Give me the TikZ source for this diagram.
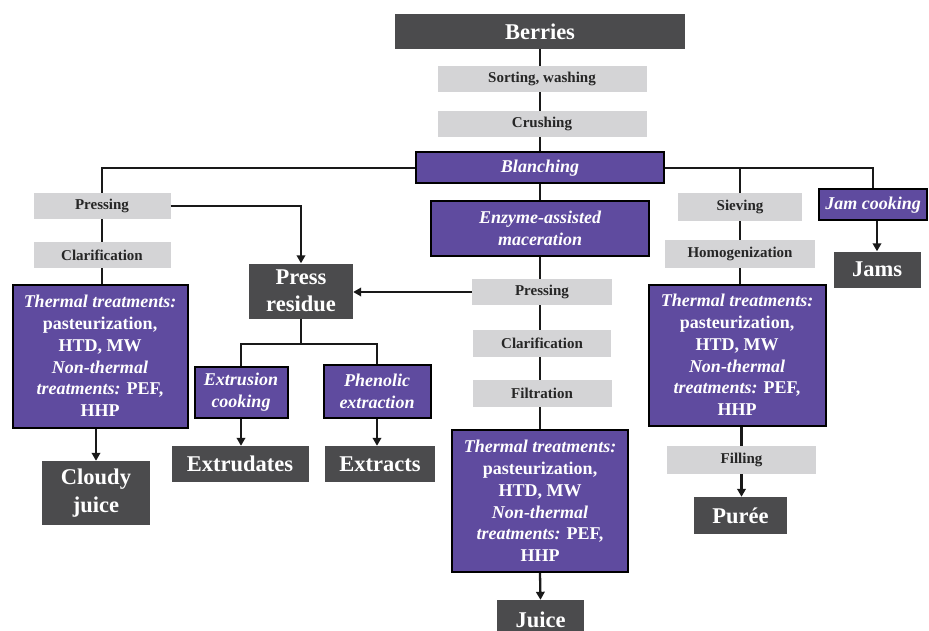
\documentclass[tikz,border=0pt]{standalone}
\usepackage{fontspec}
\setmainfont{Liberation Serif}
\usetikzlibrary{arrows.meta,calc}
\definecolor{darkbox}{HTML}{4B4B4D}
\definecolor{lightbox}{HTML}{D4D4D6}
\definecolor{purplebox}{HTML}{5F4B9F}
\definecolor{graytext}{HTML}{262626}
\begin{document}
\begin{tikzpicture}[x=1pt,y=-1pt,
  base/.style={inner sep=0pt, align=center},
  product/.style={base, fill=darkbox, text=white, font=\bfseries\fontsize{22.5}{27.5}\selectfont},
  stepbox/.style={base, fill=lightbox, text=graytext, font=\bfseries\fontsize{15}{18}\selectfont},
  procbox/.style={base, fill=purplebox, draw=black, line width=2pt, text=white, font=\bfseries\itshape\fontsize{18}{21.7}\selectfont},
  treatbox/.style={base, fill=purplebox, draw=black, line width=2pt, text=white, font=\bfseries\fontsize{18}{21.7}\selectfont},
  conn/.style={draw=black!90, line width=2.3pt},
  arr/.style={conn, -{Triangle[length=8pt,width=8.5pt]}}
]
\useasboundingbox (0,0) rectangle (929,631);

% main column
\node[product, minimum width=290, minimum height=35] (berries) at (540,31.5) {Berries};
\node[stepbox, minimum width=209, minimum height=26] (sort) at (542,79) {Sorting, washing};
\node[stepbox, minimum width=209, minimum height=26] (crush) at (542,124) {Crushing};
\node[procbox, minimum width=248, minimum height=31] (blanch) at (540,168) {Blanching};
\node[procbox, minimum width=218, minimum height=54] (enzyme) at (540,228.5) {Enzyme-assisted\\maceration};
\node[stepbox, minimum width=140, minimum height=26] (pressC) at (542,292) {Pressing};
\node[stepbox, minimum width=138, minimum height=27] (clarC) at (542,343.5) {Clarification};
\node[stepbox, minimum width=139, minimum height=27] (filt) at (542,393.5) {Filtration};
\node[treatbox, minimum width=176, minimum height=142] (thermC) at (540,501) {\textit{Thermal treatments:}\\pasteurization,\\HTD, MW\\\textit{Non-thermal}\\\textit{treatments:} PEF,\\HHP};
\node[product, minimum width=87, minimum height=40] (juice) at (540.5,620) {Juice};

% left column
\node[stepbox, minimum width=137, minimum height=26] (pressL) at (102,206) {Pressing};
\node[stepbox, minimum width=137, minimum height=26] (clarL) at (102,255) {Clarification};
\node[treatbox, minimum width=175, minimum height=143] (thermL) at (100,356) {\textit{Thermal treatments:}\\pasteurization,\\HTD, MW\\\textit{Non-thermal}\\\textit{treatments:} PEF,\\HHP};
\node[product, minimum width=108, minimum height=64] (cloudy) at (96,493) {Cloudy\\juice};

% press residue branch
\node[product, minimum width=104, minimum height=55] (residue) at (301,291) {Press\\residue};
\node[procbox, minimum width=93, minimum height=51] (extr) at (241,392) {Extrusion\\cooking};
\node[procbox, minimum width=107, minimum height=53] (phen) at (377,391) {Phenolic\\extraction};
\node[product, minimum width=137, minimum height=36] (extrudates) at (240,464) {Extrudates};
\node[product, minimum width=110, minimum height=36] (extracts) at (380,464) {Extracts};

% right column
\node[stepbox, minimum width=124, minimum height=28] (sieve) at (740,207) {Sieving};
\node[stepbox, minimum width=150, minimum height=28] (homog) at (740,254) {Homogenization};
\node[treatbox, minimum width=177, minimum height=141] (thermR) at (737,355) {\textit{Thermal treatments:}\\pasteurization,\\HTD, MW\\\textit{Non-thermal}\\\textit{treatments:} PEF,\\HHP};
\node[stepbox, minimum width=149, minimum height=28] (fill) at (741.5,460) {Filling};
\node[product, minimum width=93, minimum height=37] (puree) at (740.5,515.5) {Purée};
\node[procbox, minimum width=108, minimum height=31] (jamcook) at (873,205) {Jam cooking};
\node[product, minimum width=87, minimum height=36] (jams) at (877,269.5) {Jams};

% connectors: main column
\draw[conn] (berries.south) -- (berries.south |- sort.north);
\draw[conn] (berries.south |- sort.south) -- (berries.south |- crush.north);
\draw[conn] (berries.south |- crush.south) -- (blanch.north);
\draw[conn] (blanch.south) -- (enzyme.north);
\draw[conn] (enzyme.south) -- (enzyme.south |- pressC.north);
\draw[conn] (enzyme.south |- pressC.south) -- (enzyme.south |- clarC.north);
\draw[conn] (enzyme.south |- clarC.south) -- (enzyme.south |- filt.north);
\draw[conn] (enzyme.south |- filt.south) -- (thermC.north);
\draw[arr] (thermC.south) -- (juice.north);

% left column
\draw[conn] (blanch.west) -| (pressL.north);
\draw[conn] (pressL.south) -- (clarL.north);
\draw[conn] (clarL.south) -- (clarL.south |- thermL.north);
\draw[arr] (cloudy.north |- thermL.south) -- (cloudy.north);

% press residue branch
\draw[arr] (pressL.east) -| (residue.north);
\draw[arr] (pressC.west) -- (residue.east |- pressC.west);
\coordinate (rj) at ($(residue.south)+(0,25)$);
\draw[conn] (residue.south) -- (rj);
\draw[conn] (extr.north) |- (rj) -| (phen.north);
\draw[arr] (extr.south) -- (extr.south |- extrudates.north);
\draw[arr] (phen.south) -- (phen.south |- extracts.north);

% right column
\draw[conn] (blanch.east) -| (jamcook.north);
\coordinate (sj) at (sieve.north |- blanch.east);
\draw[conn] (sj) -- (sieve.north);
\draw[conn] (sieve.south) -- (homog.north);
\draw[conn] (homog.south) -- (homog.south |- thermR.north);
\draw[conn] (fill.north |- thermR.south) -- (fill.north);
\draw[arr] (fill.south) -- (fill.south |- puree.north);
\draw[arr] (jams.north |- jamcook.south) -- (jams.north);
\end{tikzpicture}
\end{document}
